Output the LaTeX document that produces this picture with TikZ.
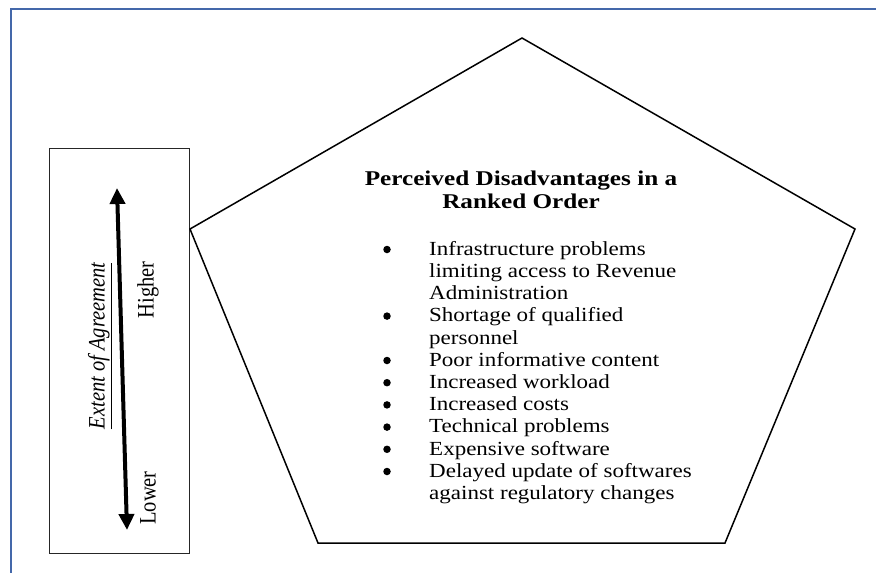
\documentclass[tikz,border=0pt]{standalone}
\usepackage{fontspec}
\usepackage{graphicx}
\setmainfont{Liberation Serif}
\newfontfamily\listfont[FakeStretch=1.15]{Liberation Serif}
\newfontfamily\titlefont[FakeStretch=1.2]{Liberation Serif}
\usetikzlibrary{arrows.meta}
\definecolor{frameblue}{RGB}{68,104,170}
\begin{document}
\begin{tikzpicture}[x=1pt,y=-1pt,
  framestyle/.style={draw=frameblue,line width=2pt},
  boxstyle/.style={draw=black!85,line width=1.2pt},
  pentstyle/.style={draw=black,line width=1.5pt},
  bigarrow/.style={line width=4pt,{Triangle[width=15pt,length=16pt]}-{Triangle[width=15pt,length=16pt]}},
  sidelabel/.style={rotate=90,font=\fontsize{20.5}{24}\selectfont,inner sep=0pt},
  bulletdot/.style={fill=black,circle,inner sep=0pt,minimum size=7.5pt}
]
\useasboundingbox (0,0) rectangle (876,573);
% blue frame
\draw[framestyle] (876,9) -- (11,9) -- (11,573);
% left box
\node[boxstyle,minimum width=140pt,minimum height=405pt,anchor=north west,inner sep=0pt] (scale) at (49,148) {};
\coordinate (atop) at (117,188);
\coordinate (abot) at (127,530);
\draw[bigarrow] (abot) -- (atop);
\node[sidelabel] (extent) at (100,346) {\scalebox{1}[1.15]{\underline{\itshape Extent of Agreement}}};
\node[sidelabel] (higher) at (148,290) {\scalebox{1}[1.15]{Higher}};
\node[sidelabel] (lower) at (148,498) {\scalebox{1}[1.15]{Lower}};
% pentagon
\coordinate (p1) at (522,38);
\coordinate (p2) at (855,229);
\coordinate (p3) at (725,543);
\coordinate (p4) at (318,543);
\coordinate (p5) at (190,229);
\draw[pentstyle,line join=miter] (p1) -- (p2) -- (p3) -- (p4) -- (p5) -- cycle;
% title
\node[anchor=north,inner sep=0pt,font=\titlefont\bfseries\fontsize{21}{23}\selectfont] (title) at (521,168.9)
  {\begin{tabular}{@{}c@{}}Perceived Disadvantages in a\\ Ranked Order\end{tabular}};
% list
\node[anchor=north west,inner sep=0pt,font=\listfont\fontsize{20}{22.2}\selectfont] (list) at (429,239.5)
  {\begin{tabular}{@{}l@{}}
  Infrastructure problems\\
  limiting access to Revenue\\
  Administration\\
  Shortage of qualified\\
  personnel\\
  Poor informative content\\
  Increased workload\\
  Increased costs\\
  Technical problems\\
  Expensive software\\
  Delayed update of softwares\\
  against regulatory changes
  \end{tabular}};
% bullets
\foreach \k/\nm in {0/b1,3/b2,5/b3,6/b4,7/b5,8/b6,9/b7,10/b8}
  \node[bulletdot] (\nm) at (387,249.5+22.2*\k) {};
\end{tikzpicture}
\end{document}
